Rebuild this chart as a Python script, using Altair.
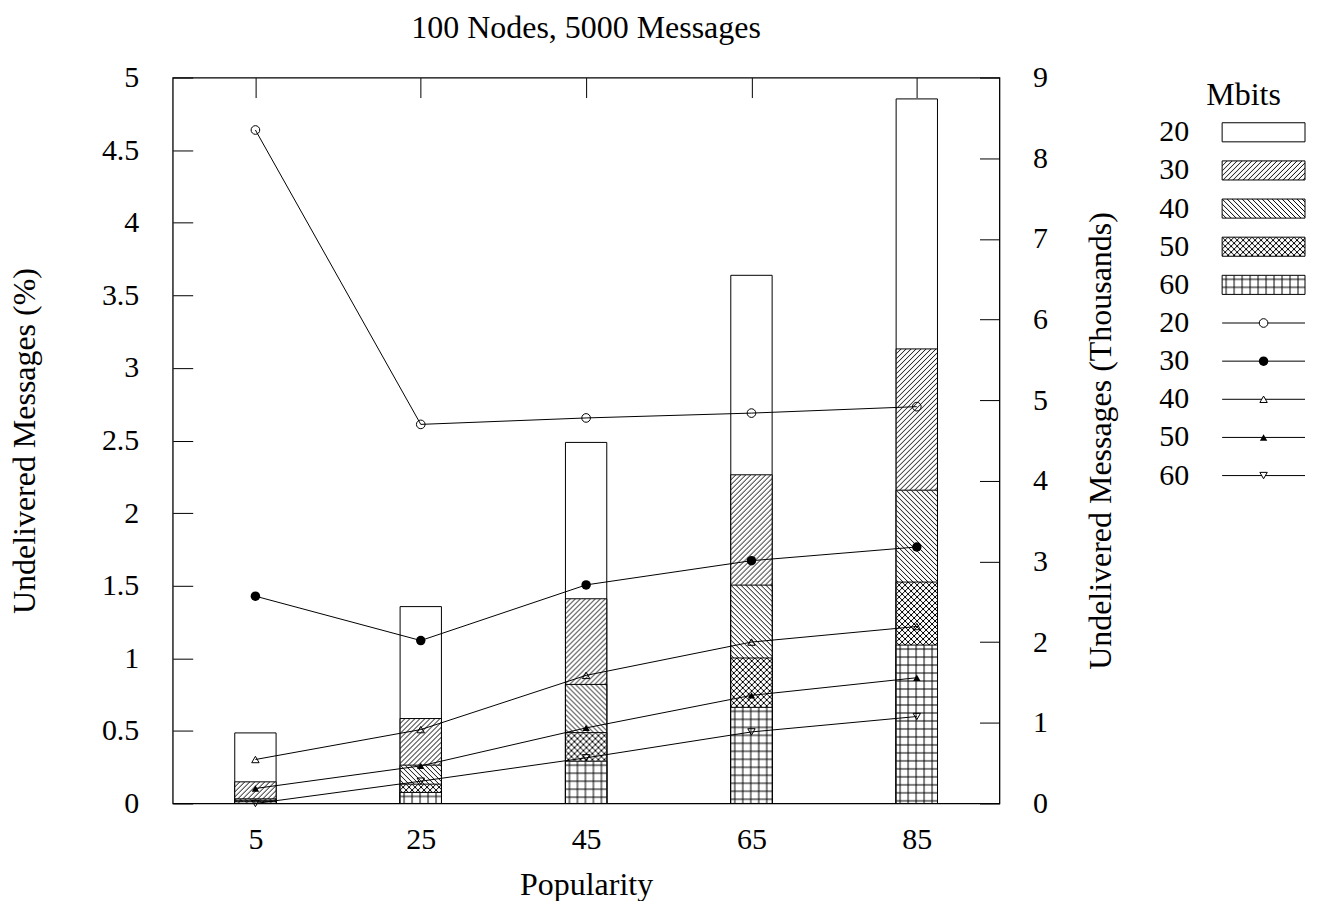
import base64
import altair as alt
import pandas as pd

# ---------------- data ----------------
popularity = [5, 25, 45, 65, 85]
mbits = ["20", "30", "40", "50", "60"]

# bars: Undelivered Messages (%)
bar_20 = [0.486, 1.356, 2.487, 3.638, 4.853]
bar_30 = [0.149, 0.585, 1.410, 2.264, 3.131]
bar_40 = [0.032, 0.264, 0.820, 1.504, 2.158]
bar_50 = [0.022, 0.133, 0.488, 1.002, 1.525]
bar_60 = [0.012, 0.076, 0.291, 0.662, 1.091]

# lines: Undelivered Messages (Thousands)
line_20 = [8.35, 4.70, 4.78, 4.84, 4.92]
line_30 = [2.57, 2.02, 2.71, 3.01, 3.18]
line_40 = [0.545, 0.916, 1.588, 2.001, 2.194]
line_50 = [0.186, 0.466, 0.937, 1.340, 1.559]
line_60 = [0.0, 0.276, 0.566, 0.887, 1.078]

left_ticks = [0, 0.5, 1, 1.5, 2, 2.5, 3, 3.5, 4, 4.5, 5]
right_ticks = [0, 1, 2, 3, 4, 5, 6, 7, 8, 9]

bar_series = [bar_20, bar_30, bar_40, bar_50, bar_60]
line_series = [line_20, line_30, line_40, line_50, line_60]

bars = pd.DataFrame(
    [{"series": m, "pop": p, "value": v}
     for m, vals in zip(mbits, bar_series) for p, v in zip(popularity, vals)]
)
lines = pd.DataFrame(
    [{"series": m, "pop": p, "value": v}
     for m, vals in zip(mbits, line_series) for p, v in zip(popularity, vals)]
)
legend_rows = pd.DataFrame({
    "row": list(range(10)),
    "label": mbits + mbits,
    "kind": ["bar"] * 5 + ["line"] * 5,
})

# ---------------- style ----------------
FONT = "Liberation Serif"
NUM_FS = 30
TXT_FS = 32
W, H = 828, 727
TICK = 20


def pattern_uri(d, size):
    svg = (
        '<svg xmlns="http://www.w3.org/2000/svg" width="100%" height="100%">'
        '<defs><pattern id="p" patternUnits="userSpaceOnUse" width="{s}" height="{s}">'
        '<path d="{d}" stroke="black" stroke-width="1" fill="none"/></pattern></defs>'
        '<rect width="100%" height="100%" fill="white"/>'
        '<rect width="100%" height="100%" fill="url(#p)"/></svg>'
    ).format(s=size, d=d)
    return "data:image/svg+xml;base64," + base64.b64encode(svg.encode()).decode()


patterns = {
    "30": pattern_uri("M0,5 L5,0 M-1,1 L1,-1 M4,6 L6,4", 5),
    "40": pattern_uri("M0,0 L5,5 M-1,4 L1,6 M4,-1 L6,1", 5),
    "50": pattern_uri("M0,6 L6,0 M-1,1 L1,-1 M5,7 L7,5 M0,0 L6,6 M-1,5 L1,7 M5,-1 L7,1", 6),
    "60": pattern_uri("M0,4 H8 M4,0 V8", 8),
}
point_style = {
    "20": ("circle", False, 75),
    "30": ("circle", True, 90),
    "40": ("triangle-up", False, 55),
    "50": ("triangle-up", True, 55),
    "60": ("triangle-down", False, 55),
}

xscale = alt.Scale(domain=[-5, 95], nice=False, zero=False)
ybar = alt.Scale(domain=[0, 5], nice=False)
yline = alt.Scale(domain=[0, 9], nice=False)
yleg = alt.Scale(type="band", domain=list(range(10)), range=[35.7, 417.7],
                 paddingInner=0.5, paddingOuter=0.25)

x_label_axis = alt.Axis(orient="bottom", values=popularity, ticks=False, domain=False,
                        labelPadding=21, title="Popularity", titlePadding=15,
                        titleFontSize=TXT_FS)
x_tick_bottom = alt.Axis(orient="bottom", values=popularity, offset=-TICK, tickSize=TICK,
                         labels=False, domain=False, title=None)
x_tick_top = alt.Axis(orient="top", values=popularity, offset=-TICK, tickSize=TICK,
                      labels=False, domain=False, title=None)
y_left_label = alt.Axis(orient="left", values=left_ticks, format="~g", ticks=False,
                        domain=False, labelPadding=34, title="Undelivered Messages (%)",
                        titlePadding=60, titleFontSize=TXT_FS)
y_left_tick = alt.Axis(orient="left", values=left_ticks, offset=-TICK, tickSize=TICK,
                       labels=False, domain=False, title=None)
y_right_label = alt.Axis(orient="right", values=right_ticks, format="~g", ticks=False,
                         domain=False, labelPadding=33,
                         title="Undelivered Messages (Thousands)", titleAngle=270,
                         titleBaseline="top", titlePadding=38, titleFontSize=TXT_FS)
y_right_tick = alt.Axis(orient="right", values=right_ticks, offset=-TICK, tickSize=TICK,
                        labels=False, domain=False, title=None)

layers = []
base_bars = alt.Chart(bars).transform_calculate(
    x0="datum.pop - 2.5", x1="datum.pop + 2.5"
)
for i, m in enumerate(mbits):
    sub = base_bars.transform_filter(alt.datum.series == m)
    if m == "20":
        xa, ya = x_label_axis, y_left_label
    elif m == "30":
        xa, ya = x_tick_bottom, y_left_tick
    else:
        xa, ya = None, None
    if m != "20":
        layers.append(
            sub.mark_image(aspect=False).encode(
                x=alt.X("x0:Q", scale=xscale, axis=xa),
                x2="x1:Q",
                y=alt.Y("value:Q", scale=ybar, axis=ya, stack=None),
                y2=alt.datum(0),
                url=alt.value(patterns[m]),
            )
        )
        xa2 = x_tick_top if m == "30" else None
        layers.append(
            sub.mark_bar(fill="white", fillOpacity=0, stroke="black", strokeWidth=1).encode(
                x=alt.X("x0:Q", scale=xscale, axis=xa2),
                x2="x1:Q",
                y=alt.Y("value:Q", scale=ybar, axis=None, stack=None),
                y2=alt.datum(0),
            )
        )
    else:
        layers.append(
            sub.mark_bar(fill="white", stroke="black", strokeWidth=1).encode(
                x=alt.X("x0:Q", scale=xscale, axis=xa),
                x2="x1:Q",
                y=alt.Y("value:Q", scale=ybar, axis=ya, stack=None),
                y2=alt.datum(0),
            )
        )

layers.append(
    alt.Chart(lines).mark_line(color="black", strokeWidth=1).encode(
        x=alt.X("pop:Q", scale=xscale, axis=None),
        y=alt.Y("value:Q", scale=yline, axis=y_right_label),
        detail="series:N",
    )
)
for m in mbits:
    shape, filled, size = point_style[m]
    layers.append(
        alt.Chart(lines).transform_filter(alt.datum.series == m).mark_point(
            shape=shape, filled=filled, color="black", fill="black" if filled else "transparent",
            size=size, strokeWidth=1, opacity=1
        ).encode(
            x=alt.X("pop:Q", scale=xscale, axis=None),
            y=alt.Y("value:Q", scale=yline, axis=y_right_tick if m == "20" else None),
        )
    )

# ---------------- legend (drawn beside the plot) ----------------
LX_LABEL, LX0, LX1, LXC = 988, 1051, 1134, 1092.5
legY = alt.Y("row:O", scale=yleg, axis=None)
legYc = alt.Y("row:O", scale=yleg, axis=None, bandPosition=0.5)

layers.append(
    alt.Chart(pd.DataFrame({"t": ["Mbits"]})).mark_text(
        font=FONT, fontSize=TXT_FS, align="center", baseline="middle", color="black"
    ).encode(text="t:N", x=alt.value(1072.5), y=alt.value(17))
)
layers.append(
    alt.Chart(legend_rows).mark_text(
        font=FONT, fontSize=NUM_FS, align="left", baseline="middle", color="black"
    ).encode(text="label:N", x=alt.value(LX_LABEL), y=legYc)
)
for i, m in enumerate(mbits):
    if m == "20":
        continue
    layers.append(
        alt.Chart(legend_rows).transform_filter(alt.datum.row == i).mark_image(aspect=False).encode(
            x=alt.value(LX0), x2=alt.value(LX1), y=legY, url=alt.value(patterns[m])
        )
    )
layers.append(
    alt.Chart(legend_rows).transform_filter(alt.datum.kind == "bar").mark_rect(
        fill="white", fillOpacity=0, stroke="black", strokeWidth=1
    ).encode(x=alt.value(LX0), x2=alt.value(LX1), y=legY)
)
layers.append(
    alt.Chart(legend_rows).transform_filter(alt.datum.kind == "line").mark_rule(
        color="black", strokeWidth=1
    ).encode(x=alt.value(LX0), x2=alt.value(LX1), y=legYc)
)
for i, m in enumerate(mbits):
    shape, filled, size = point_style[m]
    layers.append(
        alt.Chart(legend_rows).transform_filter(alt.datum.row == i + 5).mark_point(
            shape=shape, filled=filled, color="black", fill="black" if filled else "white",
            size=size, strokeWidth=1, opacity=1
        ).encode(x=alt.value(LXC), y=legYc)
    )

chart = (
    alt.layer(*layers)
    .resolve_scale(y="independent")
    .resolve_axis(x="independent", y="independent")
    .properties(
        width=W, height=H,
        background="white",
        title=alt.TitleParams("100 Nodes, 5000 Messages", frame="group", anchor="middle",
                              offset=18, font=FONT, fontSize=TXT_FS, fontWeight="normal",
                              color="black"),
        padding={"left": 0, "top": 3, "right": 5, "bottom": 0},
    )
    .configure_view(stroke="black", strokeWidth=1.3)
    .configure_axis(labelFont=FONT, labelFontSize=NUM_FS, titleFont=FONT,
                    titleFontWeight="normal", labelColor="black", titleColor="black",
                    tickColor="black", tickWidth=1, grid=False)
)

chart.save("out.html", embed_options={"renderer": "svg", "actions": False})
